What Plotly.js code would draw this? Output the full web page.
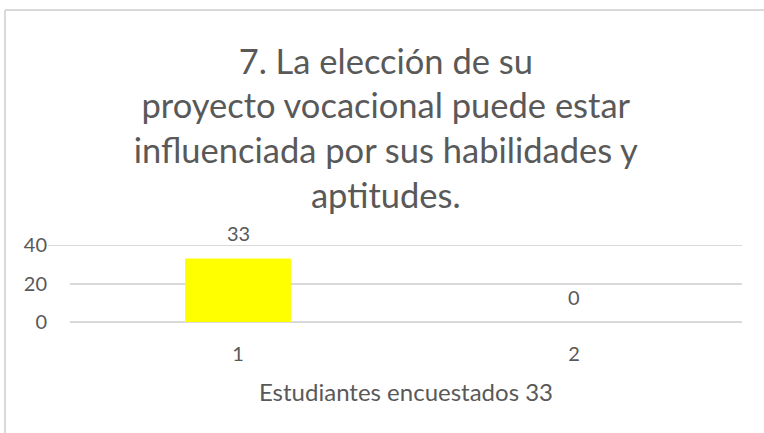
<!DOCTYPE html>
<html>
<head>
<meta charset="utf-8">
<script src="https://cdn.plot.ly/plotly-3.0.1.min.js"></script>
<style>html,body{margin:0;padding:0;background:#fff;}#chart{width:764px;height:433px;}</style>
</head>
<body>
<div id="chart"></div>
<script>
const categories = ["1", "2"];
const values = [33, 0];
const yTicks = [0, 20, 40];
const titleText = "7. La elección de su<br>proyecto vocacional puede estar<br>influenciada por sus habilidades y<br>aptitudes.";
const xTitle = "Estudiantes encuestados 33";

const FONT = "Lato, 'Open Sans', sans-serif";
const TXT = "#595959";
const GRID = "#d9d9d9";

const trace = {
  type: "bar",
  x: categories,
  y: values,
  marker: {color: "#ffff00"},
  hoverinfo: "none"
};

// data labels: category axis positions are indices
const labels = categories.map((c, i) => ({
  x: i, y: values[i], xref: "x", yref: "y",
  text: String(values[i]), showarrow: false,
  yanchor: "middle", yshift: 25,
  font: {family: FONT, size: 20, color: TXT}
}));

// pixel helpers for decorative frame (plot area: top 245, bottom 322, left 70, width 672)
const PH = 77, PW = 672, PL = 70, PT = 245;
const px2x = p => (p - PL) / PW;
const py2y = p => 1 + (PT - p) / PH;

const layout = {
  width: 764, height: 433,
  margin: {l: PL, r: 764 - PL - PW, t: PT, b: 433 - PT - PH, pad: 0},
  paper_bgcolor: "#fff", plot_bgcolor: "#fff",
  showlegend: false,
  bargap: 0.685,
  title: {
    text: titleText,
    font: {family: FONT, size: 34.5, color: TXT},
    x: 0.505, xanchor: "center", xref: "container",
    y: 0.83, yanchor: "top", yref: "container"
  },
  xaxis: {
    type: "category", range: [-0.5, categories.length - 0.5],
    showgrid: false, zeroline: false, showline: false,
    ticks: "", tickfont: {family: FONT, size: 20, color: TXT},
    ticklabelstandoff: 18,
    title: {text: xTitle, font: {family: FONT, size: 24, color: TXT}, standoff: 20}
  },
  yaxis: {
    range: [0, 40], tickvals: yTicks, ticktext: yTicks.map(String),
    showgrid: true, gridcolor: GRID, gridwidth: 2,
    zeroline: true, zerolinecolor: GRID, zerolinewidth: 2,
    showline: false, ticks: "",
    tickfont: {family: FONT, size: 20, color: TXT},
    ticklabelstandoff: 22
  },
  annotations: labels,
  shapes: [
    {type: "line", xref: "paper", yref: "y", x0: px2x(48), x1: 1, y0: yTicks[2], y1: yTicks[2], line: {color: GRID, width: 2}, layer: "below"},
    {type: "line", xref: "paper", yref: "paper", x0: px2x(5), x1: px2x(5), y0: py2y(440), y1: py2y(10), line: {color: GRID, width: 2}},
    {type: "line", xref: "paper", yref: "paper", x0: px2x(5), x1: px2x(770), y0: py2y(10), y1: py2y(10), line: {color: GRID, width: 2}}
  ]
};

Plotly.newPlot("chart", [trace], layout, {displayModeBar: false, staticPlot: true});
</script>
</body>
</html>
